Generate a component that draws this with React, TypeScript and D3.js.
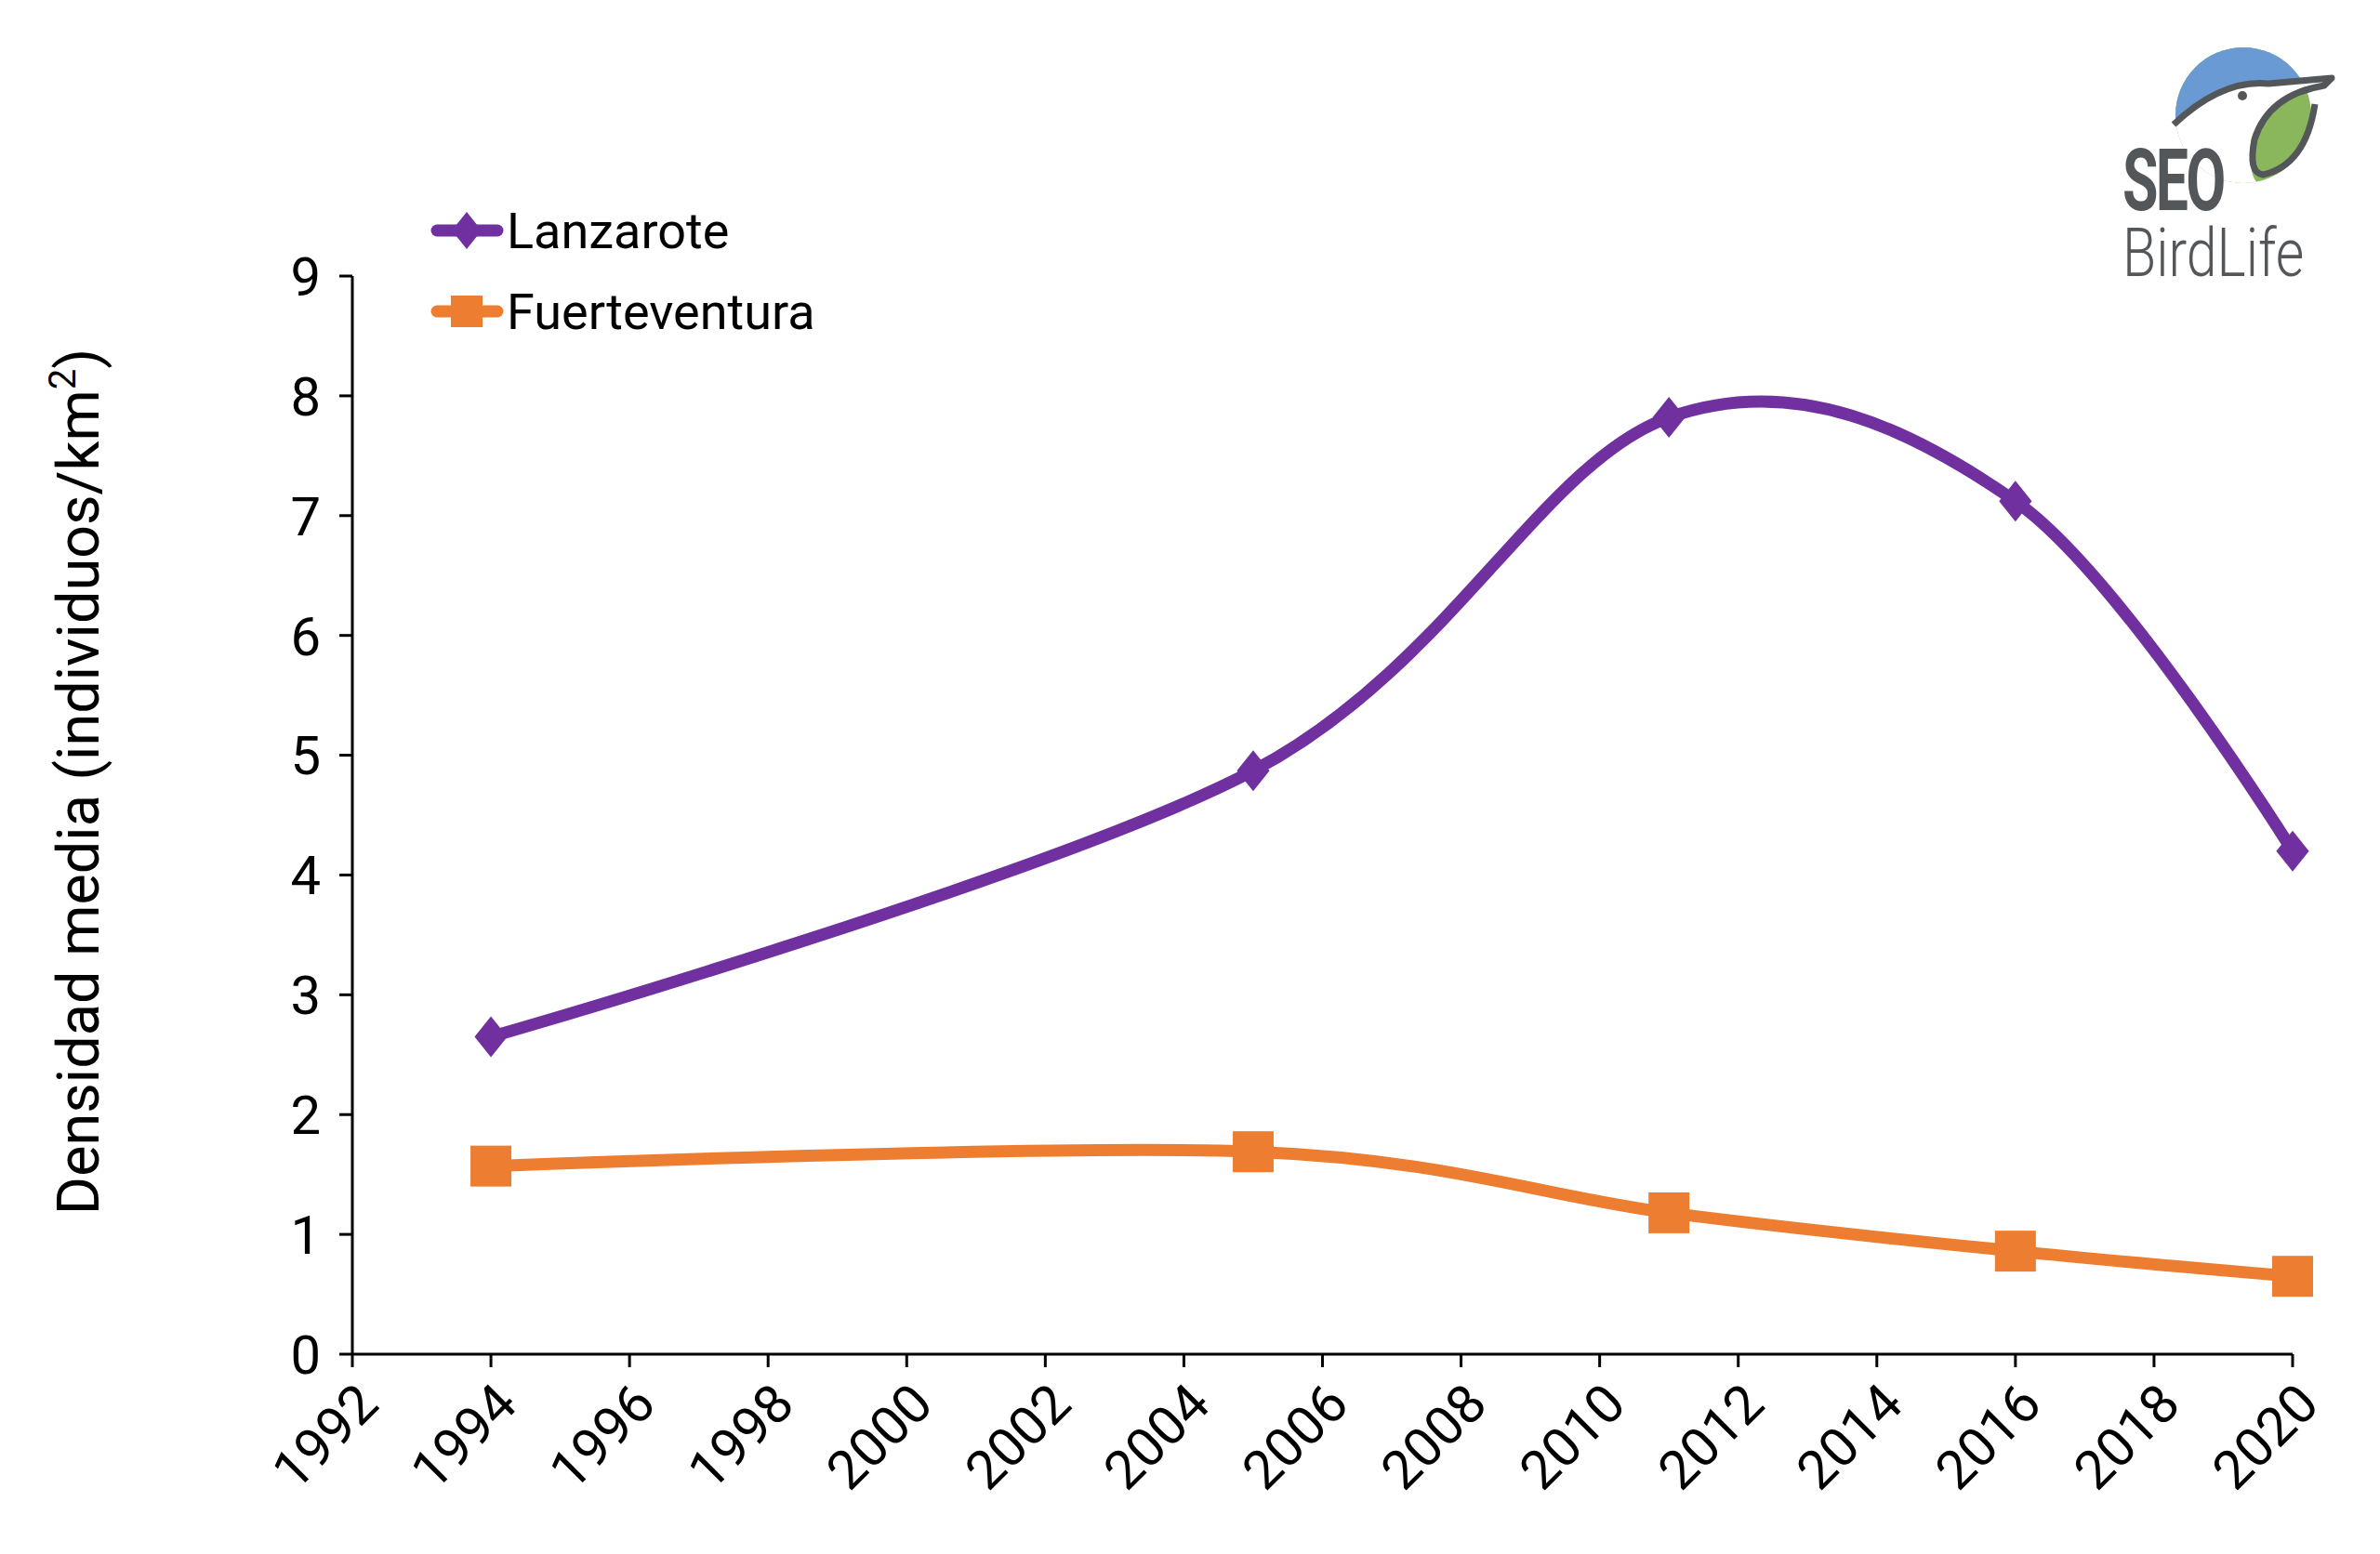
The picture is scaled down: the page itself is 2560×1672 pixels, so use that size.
import React from "react";
import * as d3 from "d3";

const years = [1994, 2005, 2011, 2016, 2020];
const lanzarote = [2.65, 4.87, 7.82, 7.12, 4.2];
const fuerteventura = [1.57, 1.69, 1.18, 0.86, 0.65];
const xTicks = d3.range(1992, 2021, 2);
const yTicks = d3.range(0, 10, 1);

const W = 2560, H = 1672;
const FONT = "Roboto, 'Noto Sans', sans-serif";
const PURPLE = "#7030a0";
const ORANGE = "#ed7d31";
const GREY = "#54575a";

export default function App() {
  const x = d3.scaleLinear().domain([1992, 2020]).range([379, 2466]);
  const y = d3.scaleLinear().domain([0, 9]).range([1457, 297]);
  const line = d3.line<[number, number]>().x(d => x(d[0])).y(d => y(d[1])).curve(d3.curveCardinal.tension(0));
  const lz = years.map((yr, i) => [yr, lanzarote[i]] as [number, number]);
  const fv = years.map((yr, i) => [yr, fuerteventura[i]] as [number, number]);
  const diamond = (cx: number, cy: number, s: number) => `M${cx},${cy - s}L${cx + s * 0.8},${cy}L${cx},${cy + s}L${cx - s * 0.8},${cy}Z`;
  return (
    <svg width={W} height={H} style={{ display: "block", position: "absolute", left: 0, top: 0, background: "#fff" }} fontFamily={FONT}>
      <line x1={x(1992)} x2={x(1992)} y1={y(9)} y2={y(0)} stroke="#000" strokeWidth={3} />
      <line x1={x(1992)} x2={x(2020)} y1={y(0)} y2={y(0)} stroke="#000" strokeWidth={3} />
      {yTicks.map(t => (
        <g key={t}>
          <line x1={x(1992) - 14} x2={x(1992)} y1={y(t)} y2={y(t)} stroke="#000" strokeWidth={3} />
          <text x={x(1992) - 34} y={y(t)} dy="0.36em" textAnchor="end" fontSize={58}>{t}</text>
        </g>
      ))}
      {xTicks.map(t => (
        <g key={t}>
          <line x1={x(t)} x2={x(t)} y1={y(0)} y2={y(0) + 14} stroke="#000" strokeWidth={3} />
          <text transform={`translate(${x(t) + 16},${y(0) + 42}) rotate(-45)`} textAnchor="end" dy="0.36em" fontSize={58}>{t}</text>
        </g>
      ))}
      <text transform={`translate(106,841) rotate(-90)`} textAnchor="middle" fontSize={63}>
        Densidad media (individuos/km<tspan dy={-25} fontSize={40}>2</tspan><tspan dy={25}>)</tspan>
      </text>
      <path d={line(lz) || ""} fill="none" stroke={PURPLE} strokeWidth={13} />
      <path d={line(fv) || ""} fill="none" stroke={ORANGE} strokeWidth={13} />
      {lz.map((d, i) => <path key={i} d={diamond(x(d[0]), y(d[1]), 22)} fill={PURPLE} />)}
      {fv.map((d, i) => <rect key={i} x={x(d[0]) - 22} y={y(d[1]) - 22} width={44} height={44} fill={ORANGE} />)}
      <line x1={470} x2={535} y1={248} y2={248} stroke={PURPLE} strokeWidth={13} strokeLinecap="round" />
      <path d={diamond(502, 248, 20)} fill={PURPLE} />
      <text x={545} y={248} dy="0.36em" fontSize={54}>Lanzarote</text>
      <line x1={470} x2={535} y1={335} y2={335} stroke={ORANGE} strokeWidth={13} strokeLinecap="round" />
      <rect x={485} y={318} width={34} height={34} fill={ORANGE} />
      <text x={545} y={335} dy="0.36em" fontSize={54}>Fuerteventura</text>
      <g>
        <clipPath id="circ"><circle cx={2413} cy={124} r={73} /></clipPath>
        <g clipPath="url(#circ)">
          <rect x={2330} y={40} width={170} height={170} fill="#8bb75c" />
          <path d="M2330,140 Q2390,85 2440,92 L2510,84 L2510,30 L2330,30 Z" fill="#6a9ad3" />
          <path d="M2330,140 Q2390,85 2440,92 L2505,85 Q2440,100 2425,150 Q2415,190 2432,200 L2330,210 Z" fill="#fff" />
        </g>
        <path d="M2338,134 Q2390,85 2440,90 L2508,84 L2500,92 Q2440,102 2425,150 Q2418,186 2434,188 Q2480,178 2490,112" fill="none" stroke={GREY} strokeWidth={7} strokeLinejoin="round" />
        <circle cx={2412} cy={103} r={5} fill={GREY} />
        <text x={2283} y={226} fontSize={92} fontWeight="bold" fill={GREY} transform="translate(2283,226) scale(0.68,1) translate(-2283,-226)" letterSpacing={-4}>SEO</text>
        <text x={2283} y={297} fontSize={72} fill={GREY} transform="translate(2283,297) scale(0.82,1) translate(-2283,-297)" fontWeight={300}>BirdLife</text>
      </g>
    </svg>
  );
}
